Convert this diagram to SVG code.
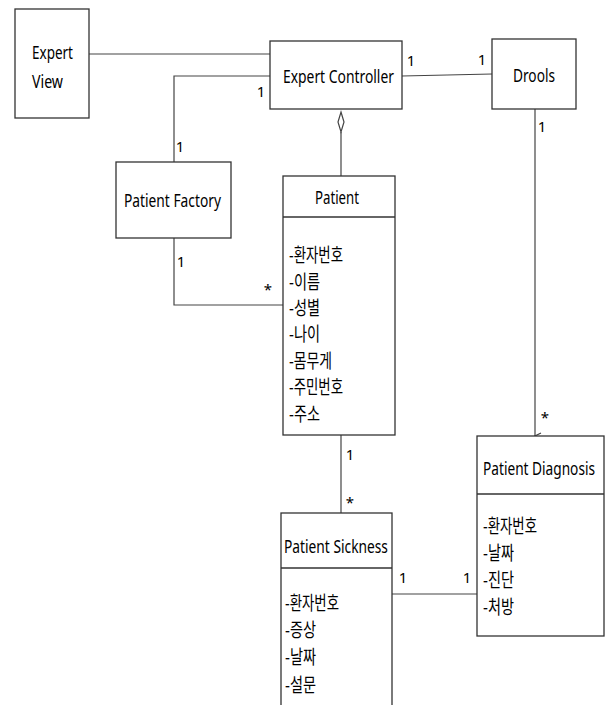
<svg xmlns="http://www.w3.org/2000/svg" width="605" height="705" viewBox="0 0 605 705">
<style>
.box{fill:#fff;stroke:#333;stroke-width:1.3}
.ln{fill:none;stroke:#444;stroke-width:1.2}
.t{font-family:"Noto Sans","Noto Sans CJK KR",sans-serif;font-size:19px;fill:#000}
.a{font-family:"Noto Sans CJK KR","Noto Sans",sans-serif;font-size:19px;fill:#000}
.m{font-family:"Noto Sans",sans-serif;font-size:15px;fill:#000;text-anchor:middle}
</style>
<defs>
<marker id="open" markerWidth="10" markerHeight="10" refX="5" refY="9" orient="auto" markerUnits="userSpaceOnUse" viewBox="0 0 10 10">
<path d="M2,3 L5,9 L8,3" fill="none" stroke="#444" stroke-width="1.2"/>
</marker>
</defs>
<rect width="605" height="705" fill="#fff"/>
<g id="connectors">
<line class="ln" x1="89" y1="54" x2="270" y2="54"/>
<polyline class="ln" points="270,76 174,76 174,162"/>
<line class="ln" x1="402" y1="76" x2="492" y2="74"/>
<line class="ln" x1="341" y1="132" x2="341" y2="176"/>
<path d="M341,112 L344,122 L341,132 L338,122 Z" fill="#fff" stroke="#444" stroke-width="1.2"/>
<polyline class="ln" points="174,238 174,305 283,305"/>
<line class="ln" x1="341" y1="435" x2="341" y2="513"/>
<line class="ln" x1="392" y1="594" x2="477" y2="594"/>
<line class="ln" x1="535" y1="109" x2="535" y2="436" marker-end="url(#open)"/>
<text class="m" x="261" y="97">1</text>
<text class="m" x="180" y="152">1</text>
<text class="m" x="411" y="66">1</text>
<text class="m" x="482" y="65">1</text>
<text class="m" x="542" y="132">1</text>
<text class="m" x="181" y="267">1</text>
<text class="m" x="268" y="295">*</text>
<text class="m" x="350" y="460">1</text>
<text class="m" x="350" y="508">*</text>
<text class="m" x="403" y="583">1</text>
<text class="m" x="467" y="583">1</text>
<text class="m" x="545" y="423">*</text>
</g>
<g id="expert-view">
<rect class="box" x="15" y="9" width="74" height="109"/>
<text class="t" transform="translate(32,59) scale(0.74,1)" textLength="55.4" lengthAdjust="spacingAndGlyphs">Expert</text>
<text class="t" transform="translate(32,88) scale(0.74,1)" textLength="41.9" lengthAdjust="spacingAndGlyphs">View</text>
</g>
<g id="expert-controller">
<rect class="box" x="270" y="41" width="132" height="68"/>
<text class="t" transform="translate(283,83) scale(0.74,1)" textLength="150" lengthAdjust="spacingAndGlyphs">Expert Controller</text>
</g>
<g id="drools">
<rect class="box" x="492" y="39" width="84" height="70"/>
<text class="t" transform="translate(513,82) scale(0.74,1)" textLength="56.8" lengthAdjust="spacingAndGlyphs">Drools</text>
</g>
<g id="patient-factory">
<rect class="box" x="116" y="162" width="115" height="76"/>
<text class="t" transform="translate(124,207) scale(0.74,1)" textLength="131" lengthAdjust="spacingAndGlyphs">Patient Factory</text>
</g>
<g id="patient">
<rect class="box" x="283" y="176" width="112" height="259"/>
<line class="box" x1="283" y1="217" x2="395" y2="217"/>
<text class="t" transform="translate(315,204) scale(0.74,1)" textLength="59.5" lengthAdjust="spacingAndGlyphs">Patient</text>
<text class="a" x="289" y="262" textLength="54" lengthAdjust="spacingAndGlyphs">-환자번호</text>
<text class="a" x="289" y="289" textLength="31" lengthAdjust="spacingAndGlyphs">-이름</text>
<text class="a" x="289" y="315" textLength="31" lengthAdjust="spacingAndGlyphs">-성별</text>
<text class="a" x="289" y="341" textLength="31" lengthAdjust="spacingAndGlyphs">-나이</text>
<text class="a" x="289" y="368" textLength="43" lengthAdjust="spacingAndGlyphs">-몸무게</text>
<text class="a" x="289" y="394" textLength="54" lengthAdjust="spacingAndGlyphs">-주민번호</text>
<text class="a" x="289" y="421" textLength="31" lengthAdjust="spacingAndGlyphs">-주소</text>
</g>
<g id="patient-sickness">
<rect class="box" x="281" y="513" width="111" height="200"/>
<line class="box" x1="281" y1="568" x2="392" y2="568"/>
<text class="t" transform="translate(284,553) scale(0.74,1)" textLength="140.5" lengthAdjust="spacingAndGlyphs">Patient Sickness</text>
<text class="a" x="285" y="610" textLength="54" lengthAdjust="spacingAndGlyphs">-환자번호</text>
<text class="a" x="285" y="637" textLength="31" lengthAdjust="spacingAndGlyphs">-증상</text>
<text class="a" x="285" y="664" textLength="31" lengthAdjust="spacingAndGlyphs">-날짜</text>
<text class="a" x="285" y="692" textLength="31" lengthAdjust="spacingAndGlyphs">-설문</text>
</g>
<g id="patient-diagnosis">
<rect class="box" x="477" y="436" width="127" height="200"/>
<line class="box" x1="477" y1="494" x2="604" y2="494"/>
<text class="t" transform="translate(483,475) scale(0.74,1)" textLength="151.4" lengthAdjust="spacingAndGlyphs">Patient Diagnosis</text>
<text class="a" x="483" y="533" textLength="54" lengthAdjust="spacingAndGlyphs">-환자번호</text>
<text class="a" x="483" y="560" textLength="31" lengthAdjust="spacingAndGlyphs">-날짜</text>
<text class="a" x="483" y="587" textLength="31" lengthAdjust="spacingAndGlyphs">-진단</text>
<text class="a" x="483" y="614" textLength="31" lengthAdjust="spacingAndGlyphs">-처방</text>
</g>
</svg>
